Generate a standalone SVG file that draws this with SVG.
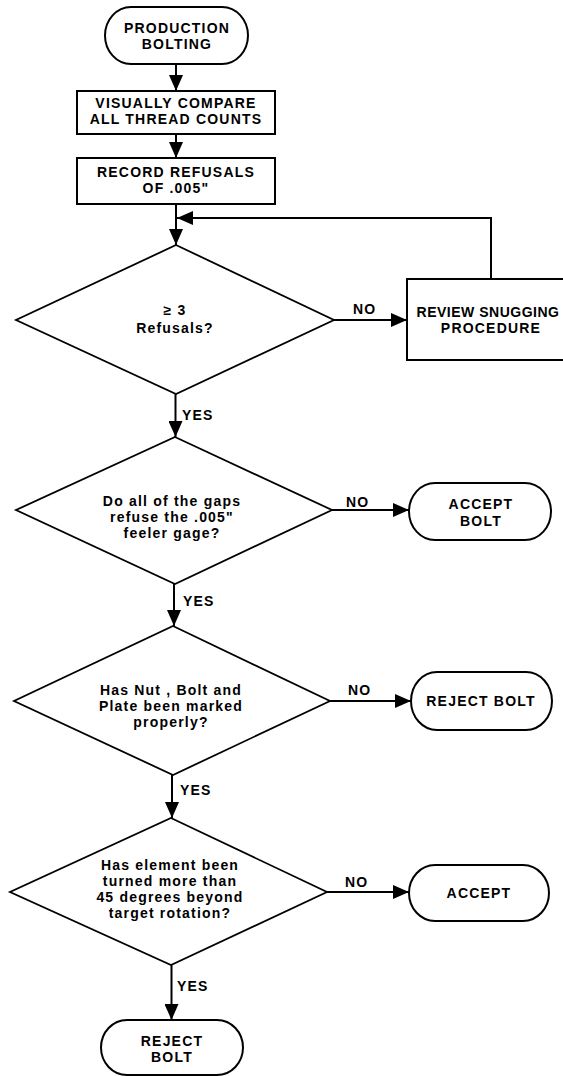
<svg xmlns="http://www.w3.org/2000/svg" width="563" height="1076" viewBox="0 0 563 1076">
<style>
.shape{fill:#fff;stroke:#000;stroke-width:2}
.dia{fill:#fff;stroke:#000;stroke-width:1.8}
.t{font-family:"Liberation Sans",Arial,sans-serif;font-weight:bold;font-size:14px;letter-spacing:1.2px;fill:#000;text-anchor:middle}
.lbl{font-family:"Liberation Sans",Arial,sans-serif;font-weight:bold;font-size:14px;letter-spacing:1.2px;fill:#000}
.c{fill:none;stroke:#000;stroke-width:2}
</style>
<defs>
<marker id="ah" markerUnits="userSpaceOnUse" markerWidth="16" markerHeight="14" refX="16" refY="7" orient="auto">
<path d="M0,0 L16,7 L0,14 Z" fill="#000"/>
</marker>
</defs>
<rect width="563" height="1076" fill="#fff"/>
<g id="connectors">
<path class="c" d="M176,64 V91" marker-end="url(#ah)"/>
<path class="c" d="M176,134 V158" marker-end="url(#ah)"/>
<path class="c" d="M176,204 V245" marker-end="url(#ah)"/>
<path class="c" d="M491,279 V218 H177" marker-end="url(#ah)"/>
<path class="c" d="M334,320 H407" marker-end="url(#ah)"/>
<path class="c" d="M175.5,394 V437" marker-end="url(#ah)"/>
<path class="c" d="M332,510 H409" marker-end="url(#ah)"/>
<path class="c" d="M174,584 V626" marker-end="url(#ah)"/>
<path class="c" d="M330,701 H411" marker-end="url(#ah)"/>
<path class="c" d="M172,775 V818" marker-end="url(#ah)"/>
<path class="c" d="M327,892 H409" marker-end="url(#ah)"/>
<path class="c" d="M171.5,965 V1020" marker-end="url(#ah)"/>
<text class="lbl" x="353" y="314">NO</text>
<text class="lbl" x="182" y="420">YES</text>
<text class="lbl" x="346" y="507">NO</text>
<text class="lbl" x="183" y="606">YES</text>
<text class="lbl" x="348" y="695">NO</text>
<text class="lbl" x="180" y="795">YES</text>
<text class="lbl" x="345" y="887">NO</text>
<text class="lbl" x="177" y="991">YES</text>
</g>
<g id="start">
<rect class="shape" x="105" y="7" width="143" height="57" rx="26" ry="28.5"/>
<text class="t" x="177" y="33">PRODUCTION</text>
<text class="t" x="177" y="49">BOLTING</text>
</g>
<g id="compare">
<rect class="shape" x="77" y="91" width="198" height="43"/>
<text class="t" x="176" y="108">VISUALLY COMPARE</text>
<text class="t" x="176" y="124">ALL THREAD COUNTS</text>
</g>
<g id="record">
<rect class="shape" x="77" y="158" width="198" height="46"/>
<text class="t" x="176" y="177">RECORD REFUSALS</text>
<text class="t" x="176" y="193">OF .005"</text>
</g>
<g id="d1">
<polygon class="dia" points="176,245 334,320 176,394 16,320"/>
<text class="t" x="175" y="315">≥ 3</text>
<text class="t" x="175" y="333">Refusals?</text>
</g>
<g id="review">
<rect class="shape" x="407" y="279" width="170" height="81"/>
<text class="t" x="488" y="317" style="letter-spacing:0.5px">REVIEW SNUGGING</text>
<text class="t" x="491" y="333">PROCEDURE</text>
</g>
<g id="d2">
<polygon class="dia" points="175,437 332,510 175,584 16,510"/>
<text class="t" x="172" y="506">Do all of the gaps</text>
<text class="t" x="172" y="522">refuse the .005"</text>
<text class="t" x="172" y="538">feeler gage?</text>
</g>
<g id="acceptbolt">
<rect class="shape" x="409" y="483" width="142" height="57" rx="26" ry="28.5"/>
<text class="t" x="481" y="509">ACCEPT</text>
<text class="t" x="481" y="526">BOLT</text>
</g>
<g id="d3">
<polygon class="dia" points="173,626 330,701 173,775 14,701"/>
<text class="t" x="171" y="695">Has Nut , Bolt and</text>
<text class="t" x="171" y="711">Plate been marked</text>
<text class="t" x="171" y="727">properly?</text>
</g>
<g id="rejectbolt1">
<rect class="shape" x="411" y="672" width="141" height="58" rx="26" ry="29"/>
<text class="t" x="481" y="706">REJECT BOLT</text>
</g>
<g id="d4">
<polygon class="dia" points="171,818 327,892 171,965 10,892"/>
<text class="t" x="170" y="870">Has element been</text>
<text class="t" x="170" y="886">turned more than</text>
<text class="t" x="170" y="902">45 degrees beyond</text>
<text class="t" x="170" y="918">target rotation?</text>
</g>
<g id="accept">
<rect class="shape" x="409" y="865" width="140" height="56" rx="26" ry="28"/>
<text class="t" x="479" y="898">ACCEPT</text>
</g>
<g id="rejectbolt2">
<rect class="shape" x="101" y="1020" width="142" height="55" rx="26" ry="27.5"/>
<text class="t" x="172" y="1046">REJECT</text>
<text class="t" x="172" y="1062">BOLT</text>
</g>
</svg>
